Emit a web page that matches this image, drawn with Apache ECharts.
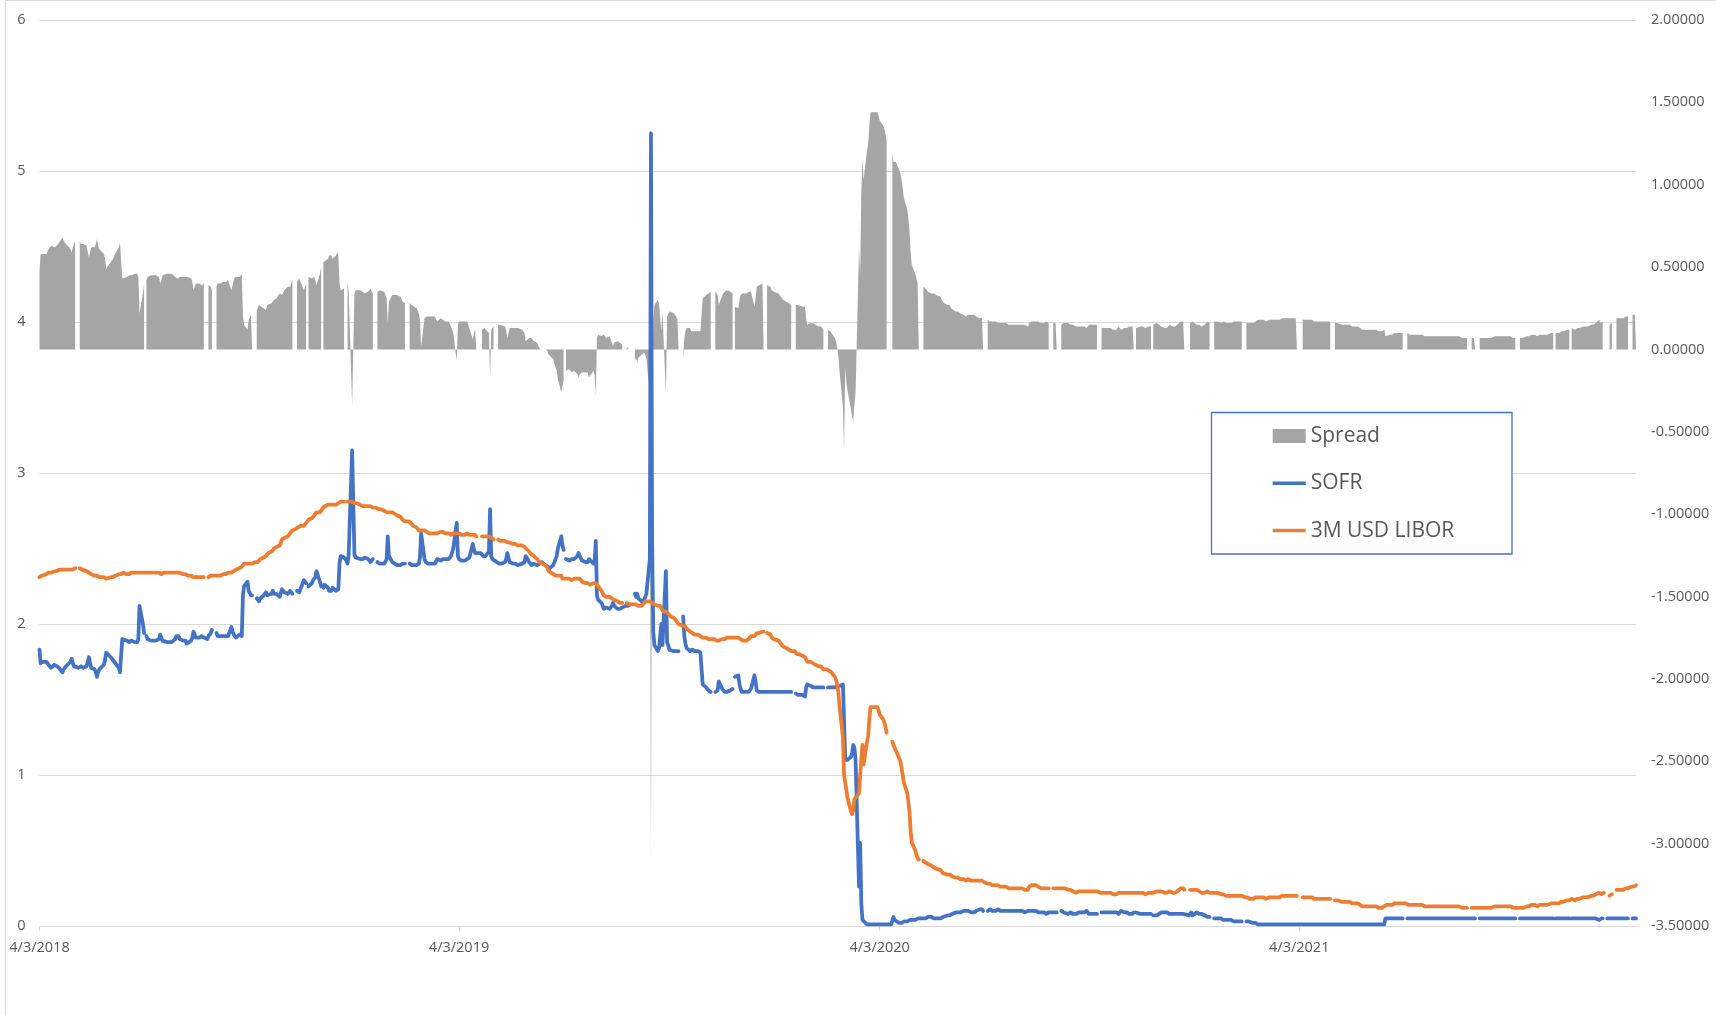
<!DOCTYPE html>
<html>
<head>
<meta charset="utf-8">
<title>SOFR vs 3M USD LIBOR</title>
<script src="https://cdn.jsdelivr.net/npm/echarts@6/dist/echarts.min.js"></script>
<style>
  html, body { margin: 0; padding: 0; background: #ffffff; }
  #chart { width: 1716px; height: 1015px; }
</style>
</head>
<body>
<div id="chart"></div>
<script>
// Daily fixings, one entry per weekday, in basis points (hundredths of a percent).
// null = no fixing published that day (US or UK market holiday).

const sofrBp2018 = [
  183,174,175,175, 175,175,173,172,171, 173,173,172,171,171, 168,170,171,172,173, 175,            // Apr (from 4/3)
  177,174,172,171, 171,171,172,171,171, 172,175,178,174,171, 170,168,165,168,170, null,173,176,181, // May
  180, 178,177,176,175,174, 171,168,167,190,190, 189,188,188,188,189, 188,187,188,190,212,          // Jun
  200,194,null,192,190, 189,188,189,190,189, 190,193,191,189,188, 188,187,188,187,188, 190,192,     // Jul
  191,192,190, 189,190,189,187,188, 189,191,195,193,191, 191,192,192,191,191, 190,192,193,194,196,  // Aug
  null,194,192,192,192, 192,191,192,192,192, 198,195,193,192,191, 193,192,192,219,225,              // Sep
  228,222,221,219,219, null,217,216,215,217, 219,220,221,219,219, 220,222,220,221,220, 218,219,223, // Oct
  222,221, 220,221,222,221,220, null,222,222,221,223, 229,228,227,null,225, 227,229,228,231,235,     // Nov
  228,225,null,224,226, 224,222,221,222,224, 222,221,223,240,245, 244,null,242,240,246, 315          // Dec
];
const liborBp2018 = [
  231,232,232,233, 233,233,234,234,234, 235,235,235,235,236, 236,236,236,236,236, 236,
  236,236,236,237, null,237,236,236,235, 235,234,234,233,233, 232,232,232,231,231, null,231,231,230,
  230, 231,231,231,232,232, 233,233,233,233,234, 233,233,233,234,234, 234,234,234,234,234,
  234,234,234,234,234, 234,234,234,234,234, 234,233,233,234,234, 234,234,234,234,234, 234,235,
  234,234,234, 233,233,233,232,232, 232,232,231,231,231, 231,231,231,231,231, null,231,232,232,232,
  232,232,232,232,232, 233,233,233,233,234, 234,234,235,236,236, 237,237,238,239,240,
  240,240,240,240,240, 241,241,241,242,243, 244,245,245,246,247, 248,249,250,251,251, 252,254,256,
  256,257, 258,259,260,261,262, 263,263,264,264,265, 265,266,267,268,269, 270,271,272,273,274,
  274,275,276,277,278, 279,279,279,279,279, 279,280,280,281,281, 281,null,null,281,281, 281
];

const sofrBp2019 = [
  null,246,244,243, 243,242,243,244,244, 243,242,241,241,243, null,241,240,240,241, 240,241,243,258, // Jan
  245, 241,240,240,240,239, 239,239,240,240,240, null,240,240,239,239, 239,239,240,244,               // Feb
  260, 243,241,241,240,240, 240,239,240,241,243, 242,241,243,242,243, 243,244,245,246,250,            // Mar
  267,245,243,242,242, 242,242,243,244,244, 253,249,247,246,null, 247,246,245,245,245, 248,276,       // Apr
  245,243,242, 241,241,240,240,240, 241,243,247,244,241, 240,240,240,240,239, null,240,241,241,245,   // May
  241,240,239,239,240, 239,240,240,240,241, 239,239,238,238,237, 239,241,243,245,250,                 // Jun
  258,252,249,null,243, 242,242,243,244,243, 245,247,245,244,242, 241,241,241,243,242, 240,242,255,   // Jul
  219,216, 214,213,210,210,211, 210,211,212,214,212, 210,209,210,210,211, 212,213,212,212,213,        // Aug
  null,220,218,220,217, 215,215,216,217,220, 243,525,255,195,186, 182,184,185,200,186, 235,           // Sep
  188,186,183,182, 182,181,182,183,182, null,205,192,187,184, 182,183,183,182,182, 182,182,181,180,   // Oct
  160, 158,157,156,155,155, null,155,155,156,162, 157,156,155,155,155, 156,157,157,null,165,          // Nov
  166,160,157,155,155, 155,155,155,155,157, 166,162,156,155,155, 155,155,null,155,155, 155,155        // Dec
];
const liborBp2019 = [
  null,280,280,280, 279,279,278,278,278, 278,278,278,277,277, 277,276,276,276,276, 275,275,274,274,
  274, 274,274,273,273,272, 271,270,269,268,268, 268,268,267,266,265, 264,263,262,262,
  262, 262,261,261,260,260, 260,260,260,260,260, 261,261,261,261,260, 260,260,259,259,260,
  260,260,260,260,259, 259,259,260,259,259, 259,259,259,258,null, null,258,258,258,258, 258,258,
  257,256,256, null,256,256,255,255, 255,255,254,254,254, 253,253,253,252,252, null,252,252,251,250,
  248,247,246,245,245, 243,242,241,240,240, 239,238,237,235,234, 233,232,232,232,232,
  232,230,230,230,230, 230,230,229,229,230, 230,230,230,229,228, 227,227,227,226,226, 227,226,227,
  226,225, 222,221,219,219,218, 218,217,217,216,216, 215,215,214,214,214, null,214,213,213,213,
  213,213,213,212,212, 212,213,214,214,215, 215,215,214,213,213, 212,212,212,211,209, 208,
  208,207,206,205, 204,203,202,201,200, 199,199,199,198,197, 195,194,194,193,193, 193,193,192,191,
  191, 191,190,190,190,190, 190,190,189,189,189, 190,190,190,191,191, 191,191,191,191,191,
  191,190,190,189,189, 189,189,190,191,192, 192,193,194,194,194, 195,195,null,null,194, 193,191
];

const sofrBp2020 = [
  null,155,154, 155,155,155,155,155, 155,155,155,155,155, null,154,153,153,153, 153,153,152,158,160, // Jan
  159,159,158,158,158, 158,158,158,158,158, null,158,158,158,158, 158,158,159,159,159,                 // Feb
  160,161,110,110,110, 112,115,120,118,110, 26,55,15,4,4, 1,1,1,1,1, 1,1,                              // Mar
  1,1,1, 1,1,1,1,null, 1,2,6,4,3, 2,2,2,2,3, 3,3,4,4,                                                 // Apr
  4, 4,4,5,5,5, 5,5,5,5,6, 6,5,5,5,5, null,5,6,6,6,                                                   // May
  7,7,7,8,8, 9,9,9,9,9, 10,10,10,10,10, 9,9,9,9,10, 11,12,                                            // Jun
  11,10,null, 10,11,11,11,10, 10,11,11,11,10, 10,10,10,10,10, 10,9,10,10,10,                          // Jul
  10,10,10,10,9, 10,10,10,10,10, 10,10,9,8,9, 9,9,8,8,9, 9,                                           // Aug
  9,9,9,9, null,10,9,9,9, 8,9,9,9,8, 8,9,9,9,9, 9,9,10,                                               // Sep
  9,8, 8,8,8,8,8, null,9,9,9,9, 9,9,9,9,9, 9,9,8,9,10,                                                // Oct
  9,9,9,8,8, 8,9,null,9,9, 8,8,8,8,8, 8,8,8,null,7, 7,                                                // Nov
  7,8,8,9, 9,9,9,9,8, 8,8,8,8,8, 8,8,8,8,null, 7,8,9,7                                                // Dec
];
const liborBp2020 = [
  null,190,189, 189,188,187,186,185, 184,184,183,183,182, 182,181,180,180,180, 179,178,178,177,175,
  175,174,174,174,173, 172,172,172,171,170, 170,170,169,169,168, 165,163,160,155,146,
  125,100,99,90,85, 76,74,77,84,84, 88,100,110,120,107, 122,126,137,145,145, 145,145,
  145,143,140, 137,135,132,128,null, null,122,120,118,117, 111,109,105,100,95, 88,82,75,62,
  55, 50,47,45,44,null, 43,42,42,42,41, 40,40,39,38,38, null,37,36,35,34,
  34,34,34,33,33, 32,32,32,31,31, 31,31,30,31,31, 30,30,30,30,30, 30,30,
  30,29,29, 28,28,28,27,27, 27,27,27,26,26, 26,26,26,25,25, 25,25,25,25,25,
  25,25,25,25,24, 24,26,27,27,27, 27,26,26,26,25, 25,25,25,25,25, null,
  25,25,25,25, 25,25,25,25,25, 24,24,24,23,23, 22,22,23,23,23, 23,23,23,
  23,23, 23,23,23,23,23, 22,22,22,22,22, 22,22,22,21,21, 21,22,22,22,22,
  22,22,22,22,22, 22,22,22,22,22, 22,22,22,22,21, 22,22,22,22,22, 23,
  23,23,23,23, 22,22,22,23,23, 22,22,22,23,23, 25,25,25,24,null, null,24,24,24
];

const sofrBp2021 = [
  null, 9,8,8,8,8, 7,7,6,6,6, null,5,5,5,5, 5,5,4,4,4,        // Jan
  4,4,4,4,3, 3,3,3,3,3, null,3,3,3,2, 2,2,2,2,1,              // Feb
  1,1,1,1,1, 1,1,1,1,1, 1,1,1,1,1, 1,1,1,1,1, 1,1,1,          // Mar
  1,1, 1,1,1,1,1, 1,1,1,1,1, 1,1,1,1,1, 1,1,1,1,1,            // Apr
  1,1,1,1,1, 1,1,1,1,1, 1,1,1,1,1, 1,1,1,1,1, null,           // May
  1,1,1,1, 1,1,1,1,1, 1,1,1,5,5, 5,5,5,5,5, 5,5,5,            // Jun
  5,5, null,5,5,5,5, 5,5,5,5,5, 5,5,5,5,5, 5,5,5,5,5,         // Jul
  5,5,5,5,5, 5,5,5,5,5, 5,5,5,5,5, 5,5,5,5,5, 5,5,            // Aug
  5,5,5, null,5,5,5,5, 5,5,5,5,5, 5,5,5,5,5, 5,5,5,5,         // Sep
  5, 5,5,5,5,5, null,5,5,5,5, 5,4,5,5,5, 5,5,5,5,5,           // Oct
  5,5,5,5,5, 5,5,5,null,5, 5,5,5,5,5, 5,5,5,null,5, 5,5,      // Nov
  5,5,5, 5,5,5,5,5, 5,5,5,5,5, 4,5,5,5,null, 5,5,5,5,5        // Dec
];
const liborBp2021 = [
  null, 24,23,23,23,22, 22,23,23,23,22, 22,22,22,22,22, 21,21,21,21,20,
  20,20,20,20,20, 20,20,20,19,20, 19,19,19,19,18, 18,19,19,19,19,
  19,19,19,18,18, 19,19,19,19,19, 19,19,19,19,20, 20,20,20,20,20, 20,20,20,
  20,null, null,19,19,19,19, 19,19,19,18,18, 18,18,18,18,18, 18,18,18,18,18,
  null,17,17,17,17, 16,16,16,16,16, 16,16,15,15,15, 15,14,14,14,13, null,
  13,13,13,13, 13,13,13,12,12, 12,12,13,13,14, 14,14,14,15,15, 15,15,15,
  15,15, 15,15,14,14,14, 14,14,14,14,14, 14,13,13,13,13, 13,13,13,13,13,
  13,13,13,13,13, 13,13,13,13,13, 13,13,13,13,13, 12,12,12,12,12, null,12,
  12,12,12, 12,12,12,12,12, 12,12,12,12,12, 13,13,13,13,13, 13,13,13,13,
  13, 13,13,12,12,12, 12,12,12,12,12, 13,13,13,13,14, 14,13,13,14,14,
  14,14,14,14,14, 15,15,15,15,15, 15,16,16,16,16, 17,17,17,17,18, 17,17,
  18,18,18, 19,19,19,19,19, 20,20,20,21,21, 22,21,21,22,22, null,null,20,19,21
];

const sofrBp2022  = [5,5,5,5,5, 5,5,5,5,5, null,5,4,5,5];          // Jan (to 1/21)
const liborBp2022 = [null,24,24,24,24, 24,25,25,25,25, 26,26,26,26,27];

const years = [2018, 2019, 2020, 2021, 2022];
const sofrByYear  = [sofrBp2018, sofrBp2019, sofrBp2020, sofrBp2021, sofrBp2022];
const liborByYear = [liborBp2018, liborBp2019, liborBp2020, liborBp2021, liborBp2022];

const seriesNames = ['Spread', 'SOFR', '3M USD LIBOR'];
const firstDate = '2018-04-03';
const lastDate  = '2022-01-21';
const xTickDates = ['2018-04-03', '2019-04-03', '2020-04-03', '2021-04-03'];

const rateAxis   = { min: 0, max: 6, interval: 1 };
const spreadAxis = { min: -3.5, max: 2, interval: 0.5 };

const DAY = 86400000;
const toUTC = s => { const [y, m, d] = s.split('-').map(Number); return Date.UTC(y, m - 1, d); };
const startT = toUTC(firstDate);
const endT = toUTC(lastDate);

// Weekdays of one calendar year, clipped to the charted period.
function weekdaysOf(year) {
  const out = [];
  const from = Math.max(startT, Date.UTC(year, 0, 1));
  const to = Math.min(endT, Date.UTC(year, 11, 31));
  for (let t = from; t <= to; t += DAY) {
    const wd = new Date(t).getUTCDay();
    if (wd >= 1 && wd <= 5) out.push(t);
  }
  return out;
}

const sofrData = [], liborData = [], spreadData = [];
years.forEach((yr, k) => {
  weekdaysOf(yr).forEach((t, i) => {
    const s = sofrByYear[k][i], l = liborByYear[k][i];
    const hasS = s !== null && s !== undefined;
    const hasL = l !== null && l !== undefined;
    if (!hasS && !hasL) return;               // both markets closed: no row
    sofrData.push([t, hasS ? s / 100 : null]);
    liborData.push([t, hasL ? l / 100 : null]);
    // Spread = 3M LIBOR - SOFR, blank whenever either fixing is missing
    spreadData.push([t, hasS && hasL ? (l - s) / 100 : null]);
  });
});

const FONT = 'Open Sans';
const LABEL = '#595959';
const GRID_LINE = '#d9d9d9';
const tickTimes = xTickDates.map(toUTC);
const fmtDate = v => { const d = new Date(v); return (d.getUTCMonth() + 1) + '/' + d.getUTCDate() + '/' + d.getUTCFullYear(); };
const lineIcon = 'path://M0,0H33V3.5H0Z';

const chart = echarts.init(document.getElementById('chart'), null, { renderer: 'canvas' });
chart.setOption({
  animation: false,
  backgroundColor: '#ffffff',
  textStyle: { fontFamily: FONT },
  grid: { left: 39.5, right: 80, top: 20, bottom: 89, containLabel: false, outerBoundsMode: 'none' },
  graphic: [
    { type: 'rect', silent: true, z: 0,
      shape: { x: 5.5, y: 0.5, width: 1760, height: 1060 },
      style: { fill: 'none', stroke: '#d9d9d9', lineWidth: 1 } },
    { type: 'rect', silent: true, z: 5,
      shape: { x: 1211.5, y: 412.5, width: 300.5, height: 141.5 },
      style: { fill: '#ffffff', stroke: '#4472C4', lineWidth: 1.3 } }
  ],
  legend: {
    orient: 'vertical', left: 1272.7, top: 424, padding: 0, z: 10,
    itemWidth: 33, itemHeight: 14, itemGap: 23.3, selectedMode: false,
    textStyle: { color: LABEL, fontSize: 21, fontFamily: FONT, lineHeight: 24 },
    data: [
      { name: seriesNames[0], icon: 'rect', itemStyle: { color: '#A5A5A5', borderWidth: 0 } },
      { name: seriesNames[1], icon: lineIcon, itemStyle: { color: '#4472C4', borderWidth: 0 } },
      { name: seriesNames[2], icon: lineIcon, itemStyle: { color: '#ED7D31', borderWidth: 0 } }
    ]
  },
  xAxis: {
    // dates as UTC milliseconds on a linear axis
    type: 'value', min: startT, max: endT, scale: true,
    axisLine: { show: true, onZero: false, lineStyle: { color: GRID_LINE, width: 1 } },
    axisTick: { show: true, customValues: tickTimes, length: 5, lineStyle: { color: GRID_LINE } },
    axisLabel: { customValues: tickTimes, formatter: fmtDate, color: LABEL, fontSize: 14.5, fontFamily: FONT, margin: 14 },
    splitLine: { show: false }
  },
  yAxis: [
    { type: 'value', position: 'left', min: rateAxis.min, max: rateAxis.max, interval: rateAxis.interval,
      axisLine: { show: false }, axisTick: { show: false },
      axisLabel: { color: LABEL, fontSize: 14.5, fontFamily: FONT, margin: 14 },
      splitLine: { show: true, lineStyle: { color: GRID_LINE, width: 1 } } },
    { type: 'value', position: 'right', min: spreadAxis.min, max: spreadAxis.max, interval: spreadAxis.interval,
      axisLine: { show: false }, axisTick: { show: false },
      axisLabel: { color: LABEL, fontSize: 14.5, fontFamily: FONT, margin: 15, formatter: v => v.toFixed(5) },
      splitLine: { show: false } }
  ],
  series: [
    { name: seriesNames[0], type: 'line', yAxisIndex: 1, data: spreadData, symbol: 'none', showSymbol: false,
      connectNulls: false, z: 1,
      itemStyle: { color: '#A5A5A5' },
      lineStyle: { width: 0, color: '#A5A5A5' },
      areaStyle: { color: '#A5A5A5', opacity: 1 } },
    { name: seriesNames[1], type: 'line', yAxisIndex: 0, data: sofrData, symbol: 'none', showSymbol: false,
      connectNulls: false, z: 3,
      itemStyle: { color: '#4472C4' },
      lineStyle: { width: 3.75, color: '#4472C4', cap: 'round', join: 'round' } },
    { name: seriesNames[2], type: 'line', yAxisIndex: 0, data: liborData, symbol: 'none', showSymbol: false,
      connectNulls: false, z: 4,
      itemStyle: { color: '#ED7D31' },
      lineStyle: { width: 3.75, color: '#ED7D31', cap: 'round', join: 'round' } }
  ]
});
</script>
</body>
</html>
